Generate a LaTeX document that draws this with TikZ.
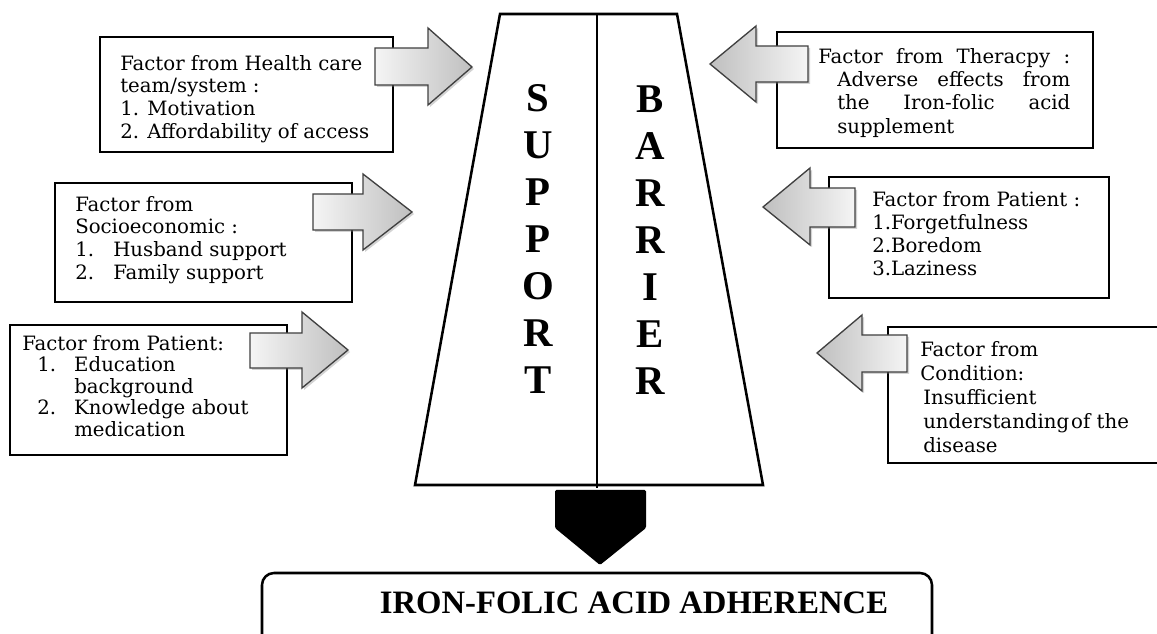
\documentclass[tikz,border=0pt]{standalone}
\usepackage{fontspec}
\setmainfont{DejaVu Serif}
\newfontfamily\timesfont{Liberation Serif}
\usetikzlibrary{shadows}
\begin{document}
\begin{tikzpicture}[x=0.75pt,y=-0.75pt,
  box/.style={draw=black, line width=1.1pt, fill=white, inner sep=0pt},
  txt/.style={anchor=north west, inner sep=0pt, align=left, font=\fontsize{14.8}{17}\selectfont},
  blockarrow/.style={draw=gray!50!black, line width=1pt,
    drop shadow={opacity=0.35, shadow xshift=1.5pt, shadow yshift=-1.5pt}},
  rarrow/.style={blockarrow, left color=gray!8, right color=gray!50},
  larrow/.style={blockarrow, left color=gray!50, right color=gray!8},
  trap/.style={draw=black, line width=1.9pt, line join=miter},
  letters/.style={font=\timesfont\bfseries\fontsize{30.6}{35.25}\selectfont, align=center, inner sep=0pt}
]
\useasboundingbox (0,0) rectangle (1157,634);

% boxes
\node[box, minimum width=219.75pt, minimum height=86.25pt] (b1) at (246.5,94.5) {};
\node[box, minimum width=222.75pt, minimum height=89.25pt] (b2) at (203.5,242.5) {};
\node[box, minimum width=207.75pt, minimum height=97.5pt] (b3) at (148.5,390) {};
\node[box, minimum width=237pt, minimum height=87pt] (b4) at (935,90) {};
\node[box, minimum width=210pt, minimum height=90.75pt] (b5) at (969,237.5) {};
\node[box, minimum width=215.25pt, minimum height=102pt] (b6) at (1031.5,395) {};

% texts
\node[txt] (t1) at (120,55) {Factor from Health care\\team/system :\\1. Motivation\\2. Affordability of access};
\node[txt] (t2) at (75,196) {Factor from\\Socioeconomic :\\\makebox[28.5pt][l]{1.}Husband support\\\makebox[28.5pt][l]{2.}Family support};
\node[txt, font=\fontsize{14.8}{16.1}\selectfont] (t3) at (22,335) {Factor from Patient:\\\hspace*{11.25pt}\makebox[27.75pt][l]{1.}Education\\\hspace*{39pt}background\\\hspace*{11.25pt}\makebox[27.75pt][l]{2.}Knowledge about\\\hspace*{39pt}medication};
\node[txt, font=\fontsize{14.8}{17.5}\selectfont] (t4) at (818,48) {\makebox[189pt][l]{Factor\hfill from\hfill Theracpy\hfill :}\\\hspace*{14.25pt}\makebox[174.75pt][l]{Adverse\hfill effects\hfill from}\\\hspace*{14.25pt}\makebox[174.75pt][l]{the\hfill Iron-folic\hfill acid}\\\hspace*{14.25pt}supplement};
\node[txt, font=\fontsize{14.8}{17.25}\selectfont] (t5) at (872,191) {Factor from Patient :\\1.Forgetfulness\\2.Boredom\\3.Laziness};
\node[txt, font=\fontsize{14.8}{18}\selectfont] (t6) at (920,341) {Factor from\\Condition:\\\hspace*{2.25pt}Insufficient\\\hspace*{2.25pt}\mbox{understanding\hspace{1.5pt}of the}\\\hspace*{2.25pt}disease};

% trapezoid
\coordinate (tl) at (500,14);
\coordinate (tr) at (677,14);
\coordinate (br) at (763,485);
\coordinate (bl) at (415,485);
\coordinate (mt) at (597,14);
\coordinate (mb) at (597,488);
\draw[trap] (tl) -- (tr) -- (br) -- (bl) -- cycle;
\draw[line width=1.7pt] (mt) -- (mb);

\node[letters] (sup) at (538,239) {S\\U\\P\\P\\O\\R\\T};
\node[letters] (bar) at (650,240.5) {B\\A\\R\\R\\I\\E\\R};

% block arrows (right pointing)
\path[rarrow] (375,48) -- (428,48) -- (428,28) -- (472,67) -- (428,105) -- (428,85) -- (375,85) -- cycle;
\path[rarrow] (313,194) -- (363,194) -- (363,174) -- (412,212) -- (363,250) -- (363,230) -- (313,230) -- cycle;
\path[rarrow] (250,333) -- (302,333) -- (302,312) -- (348,350) -- (302,388) -- (302,368) -- (250,368) -- cycle;
% block arrows (left pointing)
\path[larrow] (808,46) -- (756,46) -- (756,26) -- (710,64) -- (756,102) -- (756,82) -- (808,82) -- cycle;
\path[larrow] (855,188) -- (810,188) -- (810,168) -- (763,207) -- (810,245) -- (810,227) -- (855,227) -- cycle;
\path[larrow] (907,335) -- (862,335) -- (862,315) -- (817,353) -- (862,391) -- (862,372) -- (907,372) -- cycle;

% black down arrow
\fill[black, rounded corners=1pt] (555,490) -- (646,490) -- (646,528) -- (600,565) -- (555,528) -- cycle;

% result box
\node[draw=black, line width=1.9pt, rounded corners=9pt, minimum width=502.5pt, minimum height=69pt, inner sep=0pt] (res) at (597,619) {};
\node[font=\timesfont\bfseries\fontsize{24.5}{28}\selectfont, inner sep=0pt] (adh) at (634,603) {IRON-FOLIC ACID ADHERENCE};
\end{tikzpicture}
\end{document}
